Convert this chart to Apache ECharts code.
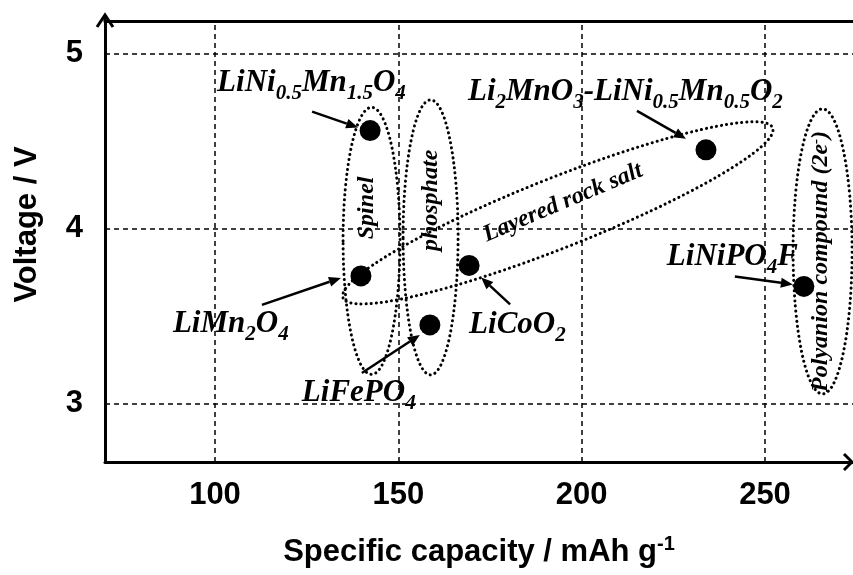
<!DOCTYPE html>
<html>
<head>
<meta charset="utf-8">
<script src="https://cdn.jsdelivr.net/npm/echarts@6/dist/echarts.min.js"></script>
<style>
  html, body { margin: 0; padding: 0; background: #fff; }
  #chart { width: 853px; height: 575px; }
</style>
</head>
<body>
<div id="chart"></div>
<script>
// ---- data -------------------------------------------------------------
const materials = ['LiNi0.5Mn1.5O4', 'LiMn2O4', 'LiFePO4', 'LiCoO2', 'Li2MnO3-LiNi0.5Mn0.5O2', 'LiNiPO4F'];
const capacity = [142.3, 139.8, 158.6, 169.3, 233.9, 260.6];   // mAh/g
const voltage  = [4.56, 3.73, 3.45, 3.79, 4.45, 3.67];         // V
const formulaText = [
  'LiNi{s|0.5}Mn{s|1.5}O{s|4}',
  'LiMn{s|2}O{s|4}',
  'LiFePO{s|4}',
  'LiCoO{s|2}',
  'Li{s|2}MnO{s|3}-LiNi{s|0.5}Mn{s|0.5}O{s|2}',
  'LiNiPO{s|4}F'
];
const capacityTicks = [100, 150, 200, 250];
const voltageTicks = [3, 4, 5];

// material families (centre of each grouping ellipse, in data units)
const groupNames = ['Spinel', 'phosphate', 'Layered rock salt', 'Polyanion compound (2e{sup|-})'];
const groupCapacity = [142.7, 158.8, 193.5, 265.7];
const groupVoltage = [3.93, 3.95, 4.09, 3.87];

// ---- layout / styling -------------------------------------------------
const labelOffset = [[-153, -48], [-188, 48], [-128, 68], [0, 60], [-238, -58], [-137, -29]];
const arrowFrom = [[-58, -19], [-99, 29], [-68, 48], [41, 39], [-69, -39], [-69, -10]];
const arrowTo = [[-12, -3], [-20, 2], [-10, 10], [12, 12], [-20, -11], [-11, -2]];
const groupRadius = [[28.5, 133.5], [27.5, 137.5], [231, 35], [29.5, 142.5]];
const groupRotation = [0, 0, 0.377, 0];
const groupTextOffset = [[-5, -33], [0, -37], [5, -10], [-2, 10]];
const groupTextRotation = [Math.PI / 2, Math.PI / 2, 0.40, Math.PI / 2];

const SANS = '"Liberation Sans", Arial, sans-serif';
const SERIF = '"Liberation Serif", "Times New Roman", serif';
const X_MIN = 70, X_MAX = 274, Y_MIN = 2.667, Y_MAX = 5.186;

const chart = echarts.init(document.getElementById('chart'), null, { renderer: 'canvas' });

const axisFont = { color: '#000', fontFamily: SANS, fontWeight: 'bold', fontSize: 31 };
const serifBI = { color: '#000', fontFamily: SERIF, fontStyle: 'italic', fontWeight: 'bold' };

const option = {
  animation: false,
  backgroundColor: '#fff',
  grid: { left: 105, right: 0, top: 21, bottom: 108 },
  xAxis: [{
    type: 'value', min: X_MIN, max: X_MAX,
    axisLine: { show: true, onZero: false, lineStyle: { color: '#000', width: 3 } },
    axisTick: { show: false },
    splitLine: { show: false },
    axisLabel: Object.assign({ customValues: capacityTicks, margin: 18 }, axisFont),
    name: 'Specific capacity / mAh g{sup|-1}',
    nameLocation: 'middle', nameGap: 72,
    nameTextStyle: Object.assign({
      lineHeight: 36,
      rich: { sup: Object.assign({}, axisFont, { fontSize: 20, lineHeight: 18, verticalAlign: 'top' }) }
    }, axisFont)
  }, {
    type: 'value', min: X_MIN, max: X_MAX, position: 'top',
    axisLine: { show: true, onZero: false, lineStyle: { color: '#000', width: 3 } },
    axisTick: { show: false }, axisLabel: { show: false }, splitLine: { show: false }
  }],
  yAxis: {
    type: 'value', min: Y_MIN, max: Y_MAX,
    axisLine: { show: true, onZero: false, lineStyle: { color: '#000', width: 3 } },
    axisTick: { show: false },
    splitLine: { show: false },
    axisLabel: Object.assign({ customValues: voltageTicks, margin: 22 }, axisFont),
    name: 'Voltage / V',
    nameLocation: 'middle', nameGap: 62, nameRotate: 90,
    nameTextStyle: Object.assign({ padding: [0, 0, 0, 34] }, axisFont)
  },
  series: [{
    type: 'scatter',
    symbol: 'circle',
    symbolSize: 21,
    itemStyle: { color: '#000', opacity: 1 },
    emphasis: { disabled: true },
    z: 5,
    label: Object.assign({
      show: true, position: 'inside', align: 'left', verticalAlign: 'middle',
      fontSize: 31, lineHeight: 42, opacity: 1,
      rich: { s: Object.assign({}, serifBI, { fontSize: 21, lineHeight: 21, verticalAlign: 'bottom' }) }
    }, serifBI),
    data: capacity.map((c, i) => ({
      name: materials[i],
      value: [c, voltage[i]],
      label: { offset: labelOffset[i], formatter: formulaText[i] }
    })),
    markLine: {
      silent: true,
      symbol: ['none', 'none'],
      label: { show: false },
      lineStyle: { color: '#000', type: [5, 4], width: 1.5, opacity: 1 },
      data: capacityTicks.map(v => ({ xAxis: v })).concat(voltageTicks.map(v => ({ yAxis: v })))
    }
  }]
};
chart.setOption(option);

// ---- annotations drawn in pixel space from data coordinates ----------
const px = (x, y) => chart.convertToPixel({ gridIndex: 0 }, [x, y]);
const elements = [];
const stroke = { stroke: '#000', lineWidth: 2.5 };

function arrow(x1, y1, x2, y2) {
  const ang = Math.atan2(y2 - y1, x2 - x1);
  const len = 12, half = 5;
  const bx = x2 - len * Math.cos(ang), by = y2 - len * Math.sin(ang);
  elements.push({ type: 'line', z: 10, shape: { x1, y1, x2: bx, y2: by }, style: stroke });
  elements.push({
    type: 'polygon', z: 10,
    shape: { points: [[x2, y2],
      [bx + half * Math.sin(ang), by - half * Math.cos(ang)],
      [bx - half * Math.sin(ang), by + half * Math.cos(ang)]] },
    style: { fill: '#000' }
  });
}

capacity.forEach((c, i) => {
  const p = px(c, voltage[i]);
  arrow(p[0] + arrowFrom[i][0], p[1] + arrowFrom[i][1], p[0] + arrowTo[i][0], p[1] + arrowTo[i][1]);
});

groupNames.forEach((name, i) => {
  const p = px(groupCapacity[i], groupVoltage[i]);
  elements.push({
    type: 'ellipse', z: 4,
    x: p[0], y: p[1], rotation: groupRotation[i],
    shape: { cx: 0, cy: 0, rx: groupRadius[i][0], ry: groupRadius[i][1] },
    style: { fill: null, stroke: '#000', lineWidth: 3, lineDash: [0.1, 5], lineCap: 'round' }
  });
  elements.push({
    type: 'text', z: 6,
    x: p[0] + groupTextOffset[i][0], y: p[1] + groupTextOffset[i][1],
    rotation: groupTextRotation[i],
    style: Object.assign({
      text: name, fontSize: 24, fill: '#000', align: 'center', verticalAlign: 'middle',
      rich: { sup: { fontFamily: SERIF, fontStyle: 'italic', fontWeight: 'bold', fontSize: 15, lineHeight: 15, verticalAlign: 'top', fill: '#000' } }
    }, { fontFamily: SERIF, fontStyle: 'italic', fontWeight: 'bold' })
  });
});

// axis arrow heads and the short axis stub above the top frame line
const o = px(X_MIN, Y_MIN), t = px(X_MIN, Y_MAX), r = px(X_MAX, Y_MIN);
const tipY = t[1] - 6;
elements.push({ type: 'line', z: 10, shape: { x1: t[0], y1: t[1], x2: t[0], y2: tipY }, style: { stroke: '#000', lineWidth: 3 } });
elements.push({ type: 'polyline', z: 10, shape: { points: [[t[0] - 8, tipY + 12], [t[0], tipY], [t[0] + 8, tipY + 12]] }, style: { stroke: '#000', lineWidth: 3, fill: null } });
elements.push({ type: 'polyline', z: 10, shape: { points: [[r[0] - 9, o[1] - 8], [r[0] - 1, o[1]], [r[0] - 9, o[1] + 8]] }, style: { stroke: '#000', lineWidth: 3, fill: null } });

chart.setOption({ graphic: { elements } });
</script>
</body>
</html>
